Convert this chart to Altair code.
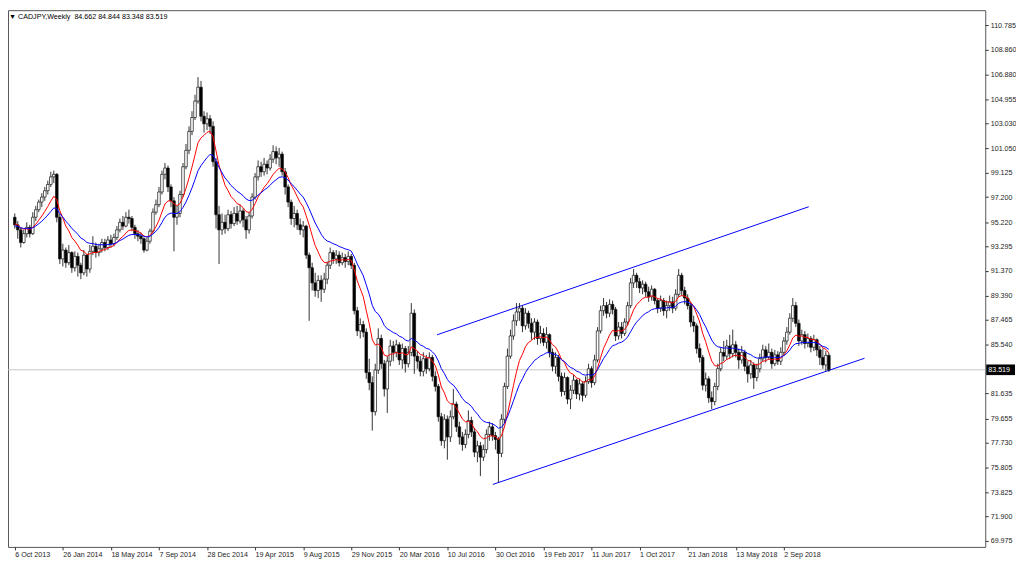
import altair as alt
import pandas as pd

# ---------------- data ----------------
SYMBOL_TEXT = "\u25bc CADJPY,Weekly\u00a0\u00a084.662 84.844 83.348 83.519"
FIRST_WEEK = "2013-10-06"
FIRST_OPEN = 95.6

CLOSE = [
    95.0, 94.6, 93.6, 94.3, 94.8, 94.3, 95.6, 96.2, 96.8, 97.2,
    97.7, 98.2, 98.8, 99.0, 95.6, 92.3, 93.0, 92.0, 92.8, 91.6,
    92.5, 91.8, 91.2, 92.6, 91.5, 92.9, 93.3, 92.8, 93.1, 93.6,
    93.2, 93.8, 93.5, 94.0, 94.6, 95.2, 94.9, 95.6, 95.5, 94.8,
    94.3, 94.1, 93.9, 93.0, 93.7, 94.5, 96.0, 96.6, 97.6, 99.0,
    99.5, 98.0, 96.9, 95.6, 95.9, 97.4, 99.6, 100.9, 102.4, 103.5,
    104.8, 105.9, 103.6, 103.0, 103.4, 102.8, 100.0, 95.8, 94.6, 95.2,
    94.7, 95.8, 95.1, 95.9, 95.3, 96.1, 95.4, 94.6, 95.7, 97.2,
    98.8, 99.6, 99.2, 99.8, 99.5, 100.2, 100.8, 100.3, 100.6, 99.2,
    98.0, 96.8, 95.5, 95.9, 95.0, 94.6, 94.9, 92.6, 91.6, 90.4,
    89.8, 90.6, 89.9, 90.7, 91.8, 92.8, 92.3, 92.6, 92.0, 92.4,
    92.1, 92.5, 91.8, 88.2, 86.6, 87.1, 86.5, 83.3, 82.5, 80.2,
    83.5, 86.0, 84.0, 82.0, 84.2, 85.4, 84.9, 85.5, 84.3, 85.2,
    84.0, 84.9, 88.0, 84.6, 84.2, 83.4, 84.4, 83.6, 84.5, 83.0,
    82.2, 79.8, 77.9, 79.6, 78.2, 79.8, 80.8, 79.0, 78.2, 77.6,
    78.4, 79.5, 78.6, 77.0, 77.5, 76.6, 77.2, 78.4, 79.0, 78.3,
    78.0, 76.9, 79.6, 82.2, 84.6, 86.2, 87.4, 88.1, 88.4, 87.0,
    88.0, 87.2, 86.5, 87.3, 86.0, 86.4, 85.7, 86.3, 84.9, 83.8,
    84.5, 83.0, 81.8, 82.9, 81.2, 81.9, 82.7, 81.6, 82.4, 81.5,
    82.6, 83.6, 82.5, 84.3, 86.6, 88.2, 88.6, 88.0, 88.7, 88.3,
    86.2, 86.9, 86.4, 87.3, 88.6, 90.4, 91.0, 90.5, 90.0, 90.3,
    89.7, 89.3, 89.9, 89.0, 88.4, 89.0, 88.2, 88.6, 88.9, 88.4,
    89.5, 91.0, 89.8, 89.2, 88.6, 87.3, 87.0, 85.2, 84.5, 82.3,
    82.8, 81.3, 81.0, 82.2, 83.6, 84.9, 84.6, 85.4, 84.8, 85.5,
    84.9, 84.3, 84.9, 83.8, 83.2, 83.9, 82.9, 83.6, 84.4, 85.1,
    84.5, 84.9, 84.0, 84.7, 84.2, 84.9, 85.8, 86.5, 87.6, 88.6,
    87.2, 85.8, 86.3, 85.6, 86.0, 85.3, 85.9, 85.1, 84.5, 83.9,
    84.662, 83.519,
]

HIGH = [
    95.9, 95.3, 94.8, 94.6, 95.2, 95.0, 96.0, 96.5, 97.0, 97.5,
    98.0, 98.5, 99.2, 99.3, 99.1, 95.9, 93.5, 93.2, 93.4, 92.9,
    92.9, 92.8, 92.0, 93.0, 92.7, 93.4, 94.1, 93.6, 93.5, 93.9,
    93.9, 94.1, 94.2, 94.3, 94.9, 95.5, 95.7, 96.0, 96.2, 95.7,
    95.0, 94.6, 94.4, 94.0, 94.0, 94.7, 96.3, 97.0, 98.0, 99.3,
    99.9, 99.7, 98.2, 97.2, 96.5, 97.7, 99.9, 101.4, 102.8, 104.0,
    105.3, 106.7, 106.4, 104.0, 103.9, 103.7, 103.2, 100.3, 96.5, 95.9,
    95.8, 96.2, 96.1, 96.4, 96.5, 96.6, 96.3, 95.7, 96.0, 97.5,
    99.1, 100.1, 100.0, 100.3, 100.1, 100.6, 101.3, 101.2, 101.1, 100.8,
    99.5, 98.2, 97.0, 96.5, 96.2, 95.5, 95.3, 95.0, 92.8, 92.0,
    91.2, 91.0, 91.0, 91.2, 92.1, 93.2, 93.0, 93.0, 92.9, 92.8,
    92.7, 92.9, 92.7, 92.0, 88.5, 87.6, 87.4, 86.8, 84.4, 83.0,
    84.0, 86.8, 86.3, 84.3, 84.6, 85.9, 85.8, 85.9, 85.7, 85.6,
    85.4, 85.4, 88.8, 88.3, 85.0, 84.6, 84.9, 84.7, 84.9, 84.7,
    83.4, 82.4, 80.1, 80.0, 79.9, 80.3, 82.0, 81.0, 79.4, 78.6,
    78.8, 80.3, 79.8, 78.9, 77.9, 77.8, 77.6, 78.8, 79.4, 79.3,
    78.6, 78.2, 80.0, 82.5, 85.2, 86.7, 87.9, 88.8, 88.8, 88.6,
    88.4, 88.2, 87.6, 87.6, 87.5, 87.0, 86.8, 86.9, 86.4, 85.2,
    84.9, 84.7, 83.3, 83.3, 83.0, 82.3, 83.1, 82.8, 82.8, 82.6,
    83.0, 84.0, 83.8, 84.7, 86.9, 88.6, 89.2, 88.9, 89.1, 89.0,
    88.5, 87.3, 87.3, 87.6, 88.9, 90.8, 91.5, 91.2, 90.8, 90.6,
    90.5, 90.1, 90.2, 90.0, 89.2, 89.4, 89.2, 89.0, 89.4, 89.3,
    89.9, 91.5, 91.2, 90.1, 89.5, 88.9, 87.8, 87.2, 85.6, 84.7,
    83.3, 83.0, 81.8, 82.5, 84.0, 85.3, 85.8, 85.9, 86.3, 86.7,
    85.8, 85.2, 85.4, 85.1, 84.2, 84.3, 84.1, 84.0, 84.8, 85.5,
    85.4, 85.6, 85.2, 85.1, 85.0, 85.3, 86.1, 86.9, 88.0, 89.2,
    88.9, 87.5, 86.7, 86.6, 86.4, 86.2, 86.3, 86.0, 85.4, 85.2,
    85.0, 84.844,
]

LOW = [
    94.7, 93.9, 93.2, 93.5, 94.0, 94.0, 94.2, 95.3, 96.0, 96.4,
    96.9, 97.4, 98.0, 98.3, 95.2, 91.9, 91.7, 91.6, 91.8, 91.2,
    91.3, 90.9, 90.7, 91.0, 90.9, 91.2, 92.6, 92.4, 92.5, 92.8,
    92.9, 93.0, 93.2, 93.3, 93.8, 94.4, 94.6, 94.8, 95.1, 94.5,
    93.9, 93.7, 93.5, 92.8, 92.9, 93.5, 94.3, 95.8, 96.4, 97.4,
    98.6, 97.6, 96.4, 92.9, 95.0, 95.6, 97.2, 99.4, 100.6, 102.1,
    103.3, 104.6, 103.2, 102.3, 102.5, 102.2, 99.6, 94.7, 91.9, 94.2,
    94.3, 94.5, 94.7, 94.9, 95.0, 95.1, 94.8, 93.9, 94.3, 95.5,
    97.0, 98.5, 98.8, 98.9, 99.0, 99.3, 99.9, 99.8, 99.6, 98.9,
    97.4, 96.4, 95.0, 94.8, 94.6, 94.2, 94.0, 92.3, 87.4, 89.8,
    89.3, 89.2, 88.9, 89.6, 90.3, 91.5, 91.9, 91.9, 91.7, 91.8,
    91.6, 91.8, 91.5, 87.9, 86.2, 86.0, 86.1, 82.8, 81.9, 78.7,
    79.9, 83.2, 83.6, 81.4, 80.1, 83.8, 84.2, 84.5, 83.9, 83.6,
    83.3, 83.7, 84.6, 83.2, 83.6, 83.0, 83.0, 83.2, 83.4, 82.6,
    81.8, 79.4, 77.5, 77.3, 76.4, 77.8, 79.6, 78.6, 77.6, 77.1,
    77.3, 78.1, 78.2, 76.6, 76.2, 75.1, 76.3, 76.9, 77.9, 77.9,
    77.2, 74.6, 76.6, 79.3, 82.0, 84.4, 85.9, 87.0, 87.4, 86.5,
    86.7, 86.8, 85.9, 85.9, 85.5, 85.6, 85.4, 85.2, 84.5, 83.4,
    83.2, 82.6, 81.4, 81.5, 80.8, 80.4, 81.6, 81.2, 81.1, 81.0,
    81.3, 82.4, 82.1, 82.3, 84.1, 86.4, 87.8, 87.6, 87.7, 87.9,
    85.8, 85.9, 86.0, 86.2, 87.0, 88.4, 90.0, 90.0, 89.6, 89.5,
    89.3, 88.9, 89.0, 88.7, 88.0, 88.1, 87.8, 87.6, 88.2, 88.0,
    88.2, 89.3, 89.4, 88.7, 88.3, 86.9, 86.5, 84.8, 84.1, 81.9,
    81.8, 80.9, 80.4, 80.7, 81.9, 83.4, 84.2, 84.3, 84.4, 84.5,
    84.5, 83.6, 84.0, 83.4, 82.5, 82.8, 82.0, 82.6, 83.3, 84.2,
    84.1, 84.3, 83.6, 83.8, 83.9, 83.9, 84.6, 85.5, 86.3, 87.3,
    86.9, 85.4, 85.5, 85.2, 85.3, 84.9, 85.0, 84.6, 83.9, 83.6,
    83.4, 83.348,
]

# moving averages (exponential, MT4 style): periods and starting levels
MA_PERIODS = {"fast": 10, "slow": 20}
MA_START = {"fast": 95.1, "slow": 94.9}

LAST_PRICE = 83.519

PRICE_TICKS = [110.785, 108.860, 106.880, 104.955, 103.030, 101.050, 99.125,
               97.200, 95.220, 93.295, 91.370, 89.390, 87.465, 85.540,
               81.635, 79.655, 77.730, 75.805, 73.825, 71.900, 69.975]

DATE_TICKS = ["2013-10-06", "2014-01-26", "2014-05-18", "2014-09-07",
              "2014-12-28", "2015-04-19", "2015-08-09", "2015-11-29",
              "2016-03-20", "2016-07-10", "2016-10-30", "2017-02-19",
              "2017-06-11", "2017-10-01", "2018-01-21", "2018-05-13",
              "2018-09-02"]

CHANNEL_LINE = ["upper", "upper", "lower", "lower"]
CHANNEL_DATE = ["2016-06-16", "2018-10-30", "2016-10-24", "2019-03-09"]
CHANNEL_PRICE = [86.29, 96.43, 74.44, 84.43]

# ---------------- layout ----------------
W, H = 985, 541
FONT = "Liberation Sans"
FS = 7.2
WEEK_MS = 7 * 86400000


def ms(s):
    return int(pd.Timestamp(s, tz="UTC").timestamp() * 1000)


t0 = ms(FIRST_WEEK)
X_DOMAIN = [t0 - 0.6 * WEEK_MS, t0 + 321.4 * WEEK_MS]
Y_DOMAIN = [69.49, 112.0]

assert len(CLOSE) == len(HIGH) == len(LOW)
n = len(CLOSE)
dates = pd.date_range(FIRST_WEEK, periods=n, freq="7D", tz="UTC")
opens = [FIRST_OPEN] + CLOSE[:-1]


def ema(vals, period, start):
    k = 2.0 / (period + 1)
    out, e = [], start
    for v in vals:
        e = e + k * (v - e)
        out.append(e)
    return out


df = pd.DataFrame({
    "t": [int(d.timestamp() * 1000) for d in dates],
    "open": opens,
    "high": HIGH,
    "low": LOW,
    "close": CLOSE,
})
df["dir"] = ["up" if c >= o else "down" for o, c in zip(opens, CLOSE)]
df["ema_fast"] = ema(CLOSE, MA_PERIODS["fast"], MA_START["fast"])
df["ema_slow"] = ema(CLOSE, MA_PERIODS["slow"], MA_START["slow"])

ch = pd.DataFrame({"line": CHANNEL_LINE,
                   "t": [ms(d) for d in CHANNEL_DATE],
                   "p": CHANNEL_PRICE})
price_df = pd.DataFrame({"p": [LAST_PRICE]})
title_df = pd.DataFrame({"s": [SYMBOL_TEXT]})

xs = alt.Scale(type="utc", domain=X_DOMAIN)
ys = alt.Scale(domain=Y_DOMAIN, nice=False, zero=False)

x_axis = alt.Axis(values=[ms(d) for d in DATE_TICKS], format="%-d %b %Y",
                  labelAlign="left", labelBaseline="top", labelPadding=1,
                  labelFlush=False, labelOverlap=False, tickSize=3,
                  tickColor="#333333", labelColor="#1e1e1e", labelFont=FONT,
                  labelFontSize=FS, grid=False, domain=False, title=None)
y_axis = alt.Axis(orient="right", values=PRICE_TICKS, format=".3f",
                  labelPadding=2, labelOverlap=False, labelFlush=False,
                  tickSize=3, tickColor="#333333", labelColor="#1e1e1e",
                  labelFont=FONT, labelFontSize=FS, grid=False, domain=False,
                  title=None)


def X(field):
    return alt.X(field, type="temporal", scale=xs, axis=x_axis)


def Y(field):
    return alt.Y(field, type="quantitative", scale=ys, axis=y_axis)


price_line = alt.Chart(price_df).mark_rule(color="#c4c4c4", strokeWidth=1).encode(
    y=Y("p"))

channel = alt.Chart(ch).mark_line(color="#0000ff", strokeWidth=1).encode(
    x=X("t"), y=Y("p"), detail="line:N")

wicks = alt.Chart(df).mark_rule(color="#000000", strokeWidth=0.8).encode(
    x=X("t"), y=Y("low"), y2="high:Q")

bodies = alt.Chart(df).mark_bar(width=2.6, stroke="#111111", strokeWidth=0.7).encode(
    x=X("t"), y=Y("open"), y2="close:Q",
    fill=alt.Fill("dir:N", scale=alt.Scale(domain=["up", "down"],
                                           range=["#ffffff", "#000000"]),
                  legend=None))

ma_fast = alt.Chart(df).mark_line(color="#ff0000", strokeWidth=1).encode(
    x=X("t"), y=Y("ema_fast"))

ma_slow = alt.Chart(df).mark_line(color="#0000ff", strokeWidth=1).encode(
    x=X("t"), y=Y("ema_slow"))

tag_box = alt.Chart(price_df).transform_calculate(
    lo="datum.p - 0.42", hi="datum.p + 0.42"
).mark_rect(color="#000000").encode(
    x=alt.value(W + 1), x2=alt.value(W + 30),
    y=Y("lo"), y2="hi:Q")

tag_text = alt.Chart(price_df).mark_text(
    align="left", baseline="middle", color="#ffffff", font=FONT, fontSize=FS
).encode(x=alt.value(W + 3), y=Y("p"),
         text=alt.Text("p:Q", format=".3f"))

title = alt.Chart(title_df).mark_text(
    align="left", baseline="top", color="#000000", font=FONT, fontSize=FS
).encode(x=alt.value(1), y=alt.value(3), text="s:N")

chart = alt.layer(
    price_line, channel, wicks, bodies, ma_fast, ma_slow, tag_box, tag_text, title
).properties(
    width=W, height=H,
    padding={"left": 0, "top": 0, "right": 31, "bottom": 13},
    autosize=alt.AutoSizeParams(type="none"),
    background="#ffffff",
).configure_view(stroke="#555555", strokeWidth=1)

chart.save("out.html", embed_options={"renderer": "svg", "actions": False})
